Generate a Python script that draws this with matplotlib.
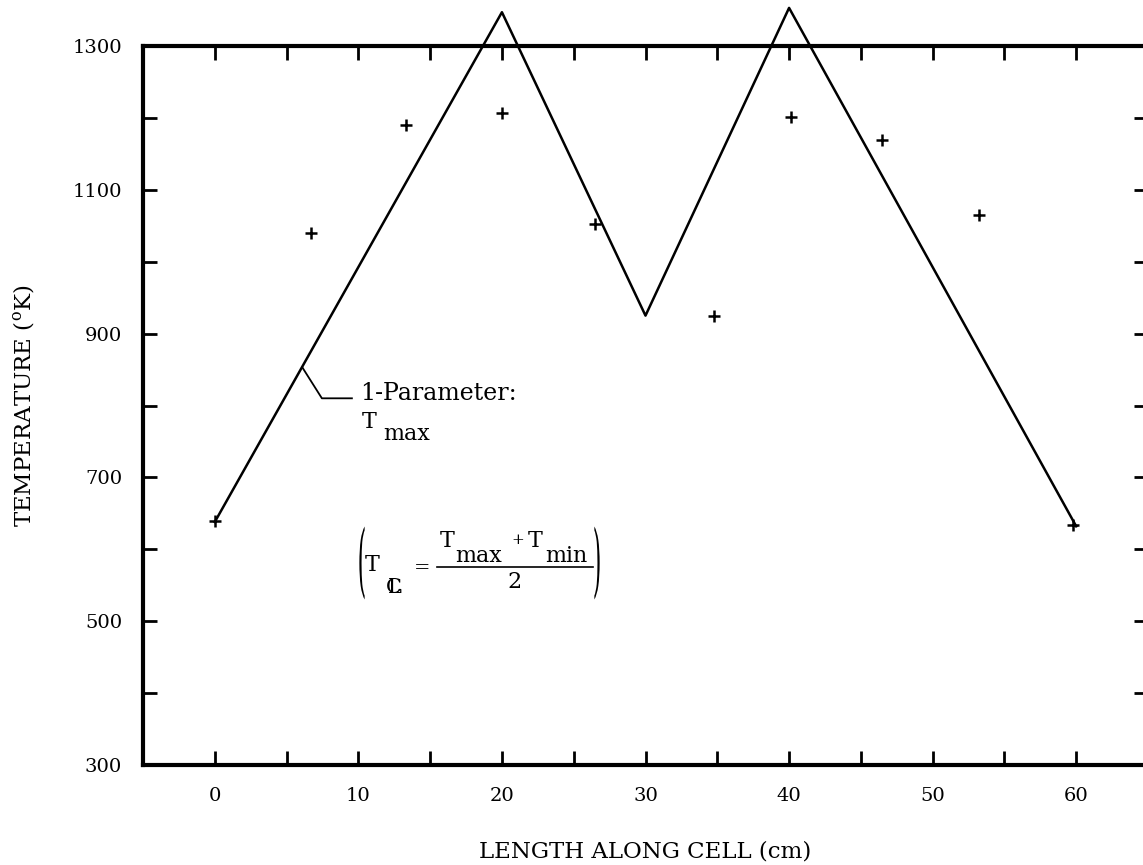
import matplotlib
matplotlib.use("Agg")
import matplotlib.pyplot as plt
from matplotlib.textpath import TextPath
from matplotlib.patches import PathPatch
from matplotlib.font_manager import FontProperties
from matplotlib.transforms import Affine2D, IdentityTransform

plt.rcParams['font.family'] = ['DejaVu Serif', 'DejaVu Sans']
plt.rcParams['mathtext.fontset'] = 'dejavuserif'

# Data
line_x = [0, 20, 30, 40, 60]
line_y = [638, 1347, 925, 1353, 632]
pts_x = [0, 6.7, 13.3, 20, 26.5, 34.8, 40.1, 46.5, 53.2, 59.8]
pts_y = [640, 1040, 1190, 1207, 1052, 925, 1201, 1169, 1065, 634]
xtick_major = [0, 10, 20, 30, 40, 50, 60]
xtick_minor = [5, 15, 25, 35, 45, 55]
ytick_major = [300, 500, 700, 900, 1100, 1300]
ytick_minor = [400, 600, 800, 1000, 1200]

W, H = 1143, 865
fig = plt.figure(figsize=(W / 100, H / 100), dpi=100)
ax = fig.add_axes([143 / W, 1 - 765 / H, 1005 / W, 719 / H])
ax.set_xlim(-5, 65)
ax.set_ylim(300, 1300)

ax.plot(line_x, line_y, color='black', lw=1.8, clip_on=False, zorder=3)
ax.plot(pts_x, pts_y, linestyle='none', marker='+', color='black',
        markersize=9, markeredgewidth=1.8, zorder=4)

ax.set_xticks(xtick_major)
ax.set_xticks(xtick_minor, minor=True)
ax.set_yticks(ytick_major)
ax.set_yticks(ytick_minor, minor=True)
ax.tick_params(which='both', direction='in', length=10, width=2,
               top=True, right=True, labeltop=False, labelright=False)
ax.tick_params(axis='x', which='major', pad=16, labelsize=14)
ax.tick_params(axis='y', which='major', pad=15, labelsize=14)
for s in ax.spines.values():
    s.set_linewidth(3)

ax.set_xlabel('LENGTH ALONG CELL (cm)', fontsize=16.5)
ax.xaxis.set_label_coords(0.5, -0.105)
ax.set_ylabel(r'TEMPERATURE ($^{\mathrm{o}}$K)', fontsize=16.5)
ax.yaxis.set_label_coords(-0.106, 0.5)

# Annotation with leader line
ax.plot([6.13, 7.46, 9.55], [852, 810, 810], color='black', lw=1.3, zorder=3)
ax.text(10.1, 808, '1-Parameter:', fontsize=17, ha='left', va='baseline')
ax.text(10.24, 769, 'T', fontsize=16, ha='left', va='baseline')
ax.text(11.7, 752, 'max', fontsize=16, ha='left', va='baseline')

# Formula: (T_CL = (T_max + T_min) / 2)
fs = 16
ax.text(10.45, 570, 'T', fontsize=fs, ha='left', va='baseline')
ax.text(11.85, 539, r'$\mathrm{C}\!\!\!\!\mathrm{L}$', fontsize=15,
        ha='left', va='baseline')
ax.text(14.43, 574, '=', fontsize=14, ha='center', va='center')
ax.plot([15.47, 26.34], [575.4, 575.4], color='black', lw=1.2)
ax.text(15.68, 603, 'T', fontsize=fs, ha='left', va='baseline')
ax.text(16.72, 582, 'max', fontsize=fs, ha='left', va='baseline')
ax.text(21.1, 613, '+', fontsize=11, ha='center', va='center')
ax.text(21.81, 603, 'T', fontsize=fs, ha='left', va='baseline')
ax.text(23.0, 582, 'min', fontsize=fs, ha='left', va='baseline')
ax.text(20.9, 546, '2', fontsize=fs, ha='center', va='baseline')


def stretched_glyph(ch, cx_px, cy_px, size, height_px):
    tp = TextPath((0, 0), ch, size=size, prop=FontProperties(family='DejaVu Serif'))
    bb = tp.get_extents()
    sy = height_px / (bb.y1 - bb.y0)
    tr = (Affine2D().translate(-(bb.x0 + bb.x1) / 2, -(bb.y0 + bb.y1) / 2)
          .scale(1.0, sy).translate(cx_px, H - cy_px))
    patch = PathPatch(tr.transform_path(tp), facecolor='black',
                      edgecolor='none', transform=IdentityTransform())
    fig.add_artist(patch)


stretched_glyph('(', 362, 563, 22, 73)
stretched_glyph(')', 597, 563, 22, 73)

fig.savefig('out.png', dpi=100)
